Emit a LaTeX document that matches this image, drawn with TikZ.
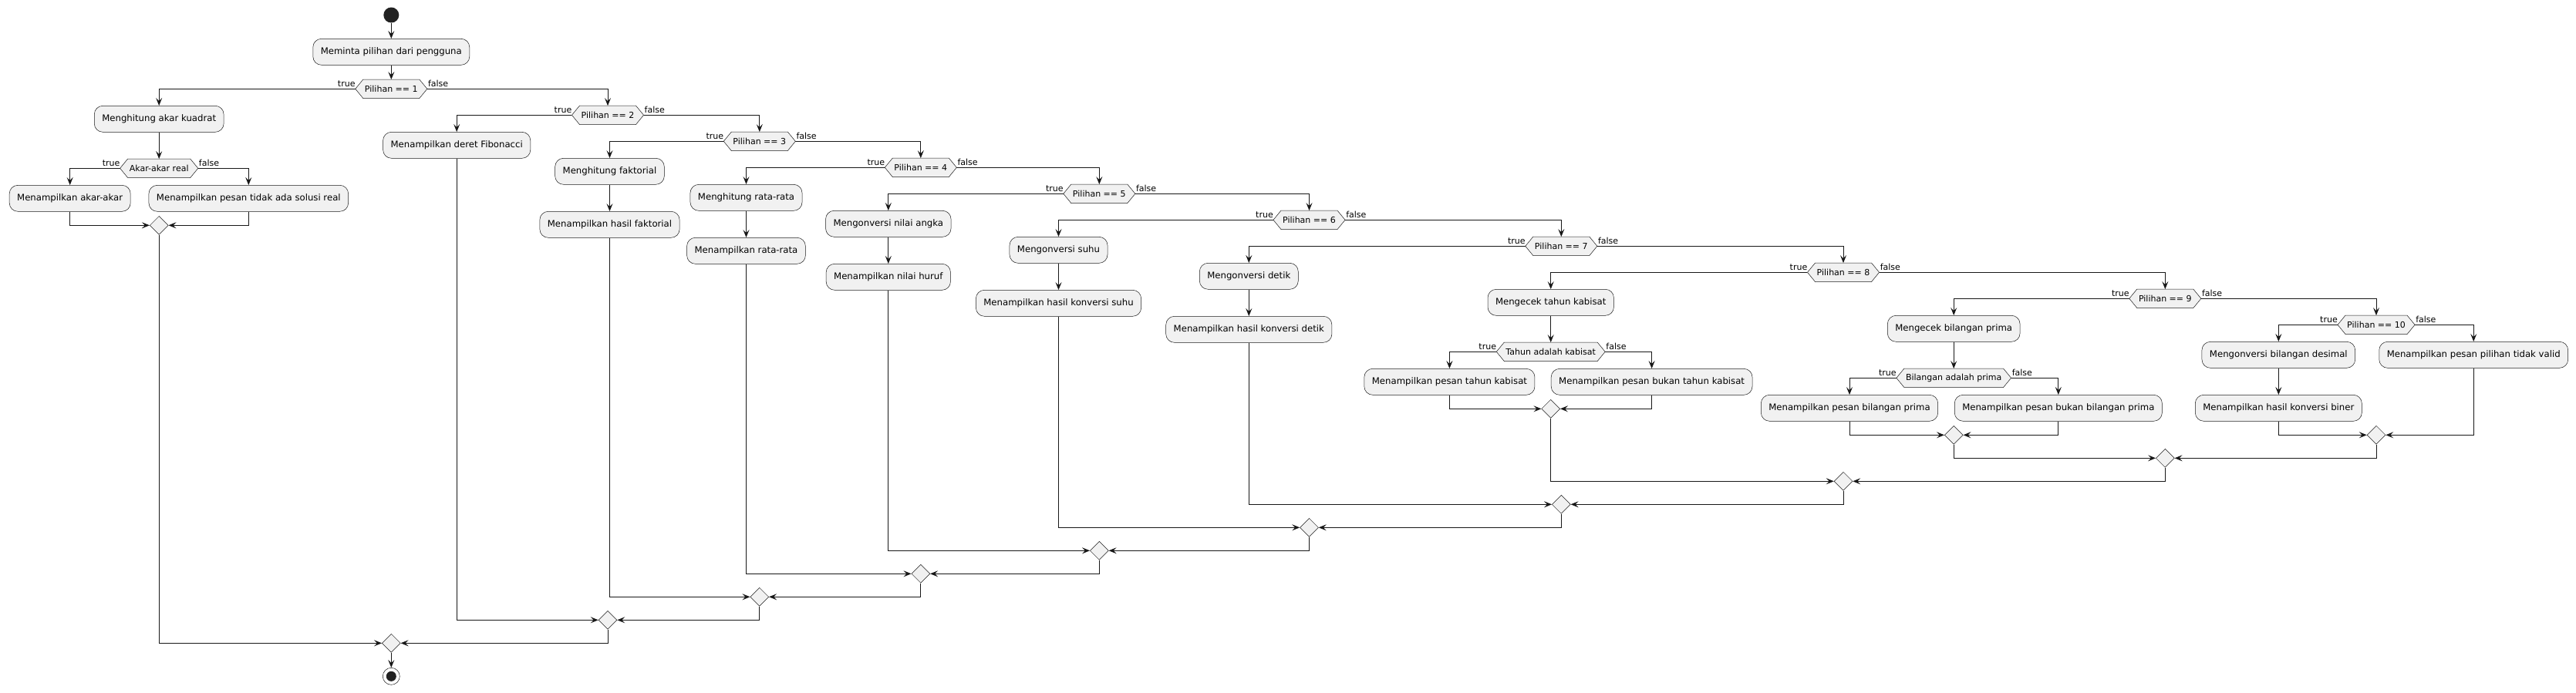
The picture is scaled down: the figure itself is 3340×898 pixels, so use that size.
\documentclass[tikz,border=0pt]{standalone}
\usepackage{fontspec}
\setmainfont{DejaVu Sans}
\usetikzlibrary{arrows.meta,shapes.geometric,backgrounds}
\definecolor{ln}{HTML}{181818}
\definecolor{bg}{HTML}{F1F1F1}
\definecolor{dot}{HTML}{222222}
\tikzset{
 act/.style={draw=ln, line width=0.5pt, fill=bg, rounded corners=11pt, minimum height=34pt, inner xsep=10pt, inner ysep=0pt, font=\fontsize{11.7}{14}\selectfont},
 hextext/.style={minimum height=24pt, inner xsep=12pt, inner ysep=0pt, font=\fontsize{11}{13}\selectfont},
 hexshape/.style={draw=ln, line width=0.5pt, fill=bg},
 merge/.style={diamond, aspect=1, draw=ln, line width=0.5pt, fill=bg, minimum width=24pt, minimum height=24pt, inner sep=0pt},
 arr/.style={draw=ln, line width=1pt, -{Stealth[length=10pt,width=8pt,inset=4pt]}},
 lbl/.style={font=\fontsize{11}{13}\selectfont, inner sep=0pt, text=black},
}
\newcommand\hexnode[3]{%
  \node[hextext] (#1) at (#2) {#3};
  \begin{scope}[on background layer]
  \path[hexshape] (#1.west) -- ([xshift=10pt]#1.north west) -- ([xshift=-10pt]#1.north east) -- (#1.east) -- ([xshift=-10pt]#1.south east) -- ([xshift=10pt]#1.south west) -- cycle;
  \end{scope}}
\newcommand\branch[3]{%
  \draw[arr] (#1.west) -| (#2.north);
  \draw[arr] (#1.east) -| (#3.north);
  \node[lbl, anchor=base east] (#1-t) at ([yshift=2.5pt]#1.west) {true};
  \node[lbl, anchor=base west] (#1-f) at ([xshift=1pt,yshift=2.5pt]#1.east) {false};}
\begin{document}
\begin{tikzpicture}[x=1pt,y=-1pt]
\useasboundingbox (0,0) rectangle (3340,898);
% start
\node[circle, fill=dot, minimum size=20pt, inner sep=0pt] (S) at (507.3,19.5) {};
\node[act] (A0) at (507.3,67.3) {Meminta pilihan dari pengguna};
\hexnode{P1}{507.3,115.3}{Pilihan == 1}
% branch 1
\node[act] (B1) at (206.2,154.3) {Menghitung akar kuadrat};
\hexnode{H1}{206.2,218.3}{Akar-akar real}
\node[act] (B1t) at (90.7,257.3) {Menampilkan akar-akar};
\node[act] (B1f) at (322.3,257.3) {Menampilkan pesan tidak ada solusi real};
\node[merge] (MH1) at (206.2,292.3) {};
% 2
\hexnode{P2}{788,149.3}{Pilihan == 2}
\node[act] (B2) at (592.2,188.3) {Menampilkan deret Fibonacci};
% 3
\hexnode{P3}{984.8,183.3}{Pilihan == 3}
\node[act] (B3a) at (790.5,222.3) {Menghitung faktorial};
\node[act] (B3b) at (790.5,291.3) {Menampilkan hasil faktorial};
% 4
\hexnode{P4}{1193.8,217.3}{Pilihan == 4}
\node[act] (B4a) at (967.5,256.3) {Menghitung rata-rata};
\node[act] (B4b) at (967.5,325.3) {Menampilkan rata-rata};
% 5
\hexnode{P5}{1425.3,251.3}{Pilihan == 5}
\node[act] (B5a) at (1151.8,290.3) {Mengonversi nilai angka};
\node[act] (B5b) at (1151.8,359.3) {Menampilkan nilai huruf};
% 6
\hexnode{P6}{1697.5,285.3}{Pilihan == 6}
\node[act] (B6a) at (1372.5,324.3) {Mengonversi suhu};
\node[act] (B6b) at (1372.5,393.3) {Menampilkan hasil konversi suhu};
% 7
\hexnode{P7}{2024.3,319.3}{Pilihan == 7}
\node[act] (B7a) at (1619.3,358.3) {Mengonversi detik};
\node[act] (B7b) at (1619.3,427.3) {Menampilkan hasil konversi detik};
% 8
\hexnode{P8}{2390,353.3}{Pilihan == 8}
\node[act] (B8) at (2010.7,392.3) {Mengecek tahun kabisat};
\hexnode{H8}{2010.7,456.3}{Tahun adalah kabisat}
\node[act] (B8t) at (1879.4,495.3) {Menampilkan pesan tahun kabisat};
\node[act] (B8f) at (2141.6,495.3) {Menampilkan pesan bukan tahun kabisat};
\node[merge] (MH8) at (2010.7,530.3) {};
% 9
\hexnode{P9}{2807.3,387.3}{Pilihan == 9}
\node[act] (B9) at (2533.2,426.3) {Mengecek bilangan prima};
\hexnode{H9}{2533.2,490.3}{Bilangan adalah prima}
\node[act] (B9t) at (2398,529.3) {Menampilkan pesan bilangan prima};
\node[act] (B9f) at (2668.8,529.3) {Menampilkan pesan bukan bilangan prima};
\node[merge] (MH9) at (2533.2,564.3) {};
% 10
\hexnode{P10}{3081,421.3}{Pilihan == 10}
\node[act] (B10a) at (2954.3,460.3) {Mengonversi bilangan desimal};
\node[act] (B10b) at (2954.3,529.3) {Menampilkan hasil konversi biner};
\node[act] (B10f) at (3207.2,460.3) {Menampilkan pesan pilihan tidak valid};
% merges
\node[merge] (M10) at (3081,564.3) {};
\node[merge] (M9) at (2807.3,594.3) {};
\node[merge] (M8) at (2390,624.3) {};
\node[merge] (M7) at (2024.3,654.3) {};
\node[merge] (M6) at (1697.5,684.3) {};
\node[merge] (M5) at (1425.3,714.3) {};
\node[merge] (M4) at (1193.8,744.3) {};
\node[merge] (M3) at (984.8,774.3) {};
\node[merge] (M2) at (788,804.3) {};
\node[merge] (M1) at (507.3,834.3) {};
\node[circle, draw=ln, line width=0.5pt, fill=white, minimum size=22pt, inner sep=0pt] (E) at (507.3,877.3) {};
\fill[dot] (E.center) circle (6.5pt);
% straight arrows
\draw[arr] (S) -- (A0);
\draw[arr] (A0) -- (P1);
\draw[arr] (B1) -- (H1);
\draw[arr] (B3a) -- (B3b);
\draw[arr] (B4a) -- (B4b);
\draw[arr] (B5a) -- (B5b);
\draw[arr] (B6a) -- (B6b);
\draw[arr] (B7a) -- (B7b);
\draw[arr] (B8) -- (H8);
\draw[arr] (B9) -- (H9);
\draw[arr] (B10a) -- (B10b);
% branches
\branch{P1}{B1}{P2}
\branch{H1}{B1t}{B1f}
\branch{P2}{B2}{P3}
\branch{P3}{B3a}{P4}
\branch{P4}{B4a}{P5}
\branch{P5}{B5a}{P6}
\branch{P6}{B6a}{P7}
\branch{P7}{B7a}{P8}
\branch{P8}{B8}{P9}
\branch{H8}{B8t}{B8f}
\branch{P9}{B9}{P10}
\branch{H9}{B9t}{B9f}
\branch{P10}{B10a}{B10f}
% merges
\draw[arr] (B1t.south) |- (MH1.west);
\draw[arr] (B1f.south) |- (MH1.east);
\draw[arr] (MH1.south) |- (M1.west);
\draw[arr] (B2.south) |- (M2.west);
\draw[arr] (B3b.south) |- (M3.west);
\draw[arr] (B4b.south) |- (M4.west);
\draw[arr] (B5b.south) |- (M5.west);
\draw[arr] (B6b.south) |- (M6.west);
\draw[arr] (B7b.south) |- (M7.west);
\draw[arr] (B8t.south) |- (MH8.west);
\draw[arr] (B8f.south) |- (MH8.east);
\draw[arr] (MH8.south) |- (M8.west);
\draw[arr] (B9t.south) |- (MH9.west);
\draw[arr] (B9f.south) |- (MH9.east);
\draw[arr] (MH9.south) |- (M9.west);
\draw[arr] (B10b.south) |- (M10.west);
\draw[arr] (B10f.south) |- (M10.east);
\draw[arr] (M10.south) |- (M9.east);
\draw[arr] (M9.south) |- (M8.east);
\draw[arr] (M8.south) |- (M7.east);
\draw[arr] (M7.south) |- (M6.east);
\draw[arr] (M6.south) |- (M5.east);
\draw[arr] (M5.south) |- (M4.east);
\draw[arr] (M4.south) |- (M3.east);
\draw[arr] (M3.south) |- (M2.east);
\draw[arr] (M2.south) |- (M1.east);
\draw[arr] (M1) -- (E);
\end{tikzpicture}
\end{document}
